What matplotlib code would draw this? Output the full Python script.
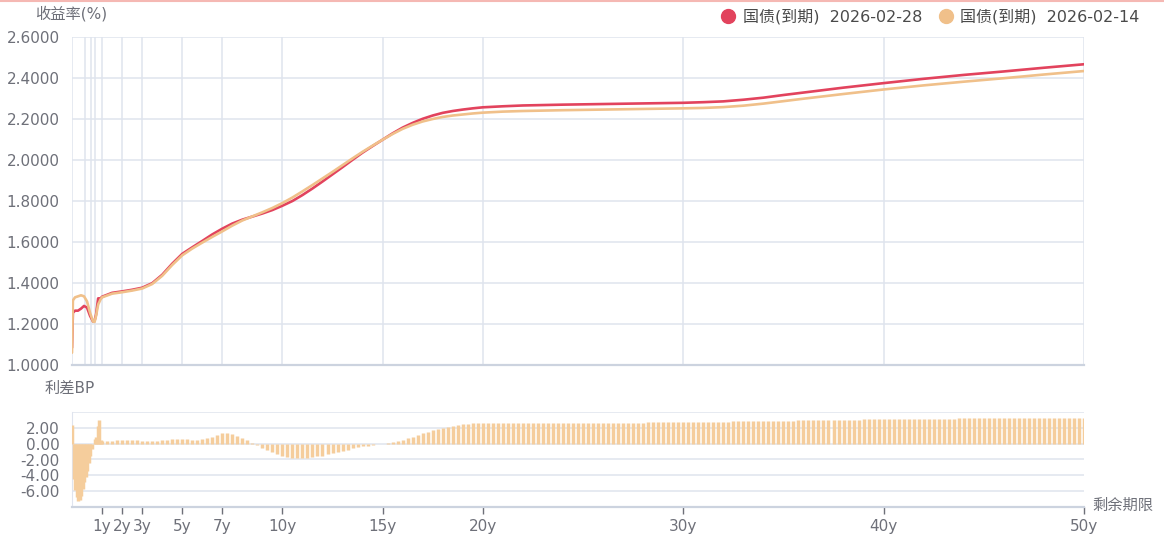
import numpy as np
import matplotlib
matplotlib.use("Agg")
import matplotlib.pyplot as plt
from matplotlib.lines import Line2D

plt.rcParams['font.family'] = ['DejaVu Sans', 'Noto Sans CJK SC']

# maturity (years) of the yield curve points
t_curve = [0, 0.03, 0.1, 0.2, 0.3, 0.4, 0.5, 0.6, 0.7, 0.75, 0.8, 0.87, 0.95,
           1.0, 1.5, 2.0, 2.5, 3.0, 3.5, 4.0, 4.5, 5.0, 5.5, 6.0, 6.5, 7.0, 7.5,
           8.0, 8.5, 9.0, 9.5, 10.0, 10.5, 11.0, 11.5, 12.0, 12.5, 13.0, 13.5,
           14.0, 14.5, 15.0, 15.5, 16.0, 16.5, 17.0, 17.5, 18.0, 18.5, 19.0,
           19.5, 20, 21, 22, 24, 26, 28, 30, 31, 32, 33, 34, 35, 36, 38, 40,
           42, 44, 46, 48, 50]

# 国债(到期) 2026-02-28
y_0228 = [1.084, 1.255, 1.265, 1.265, 1.275, 1.288, 1.280, 1.240, 1.212, 1.215,
          1.246, 1.325, 1.325, 1.333, 1.352, 1.359, 1.367, 1.377, 1.399, 1.440,
          1.494, 1.542, 1.574, 1.605, 1.637, 1.665, 1.690, 1.709, 1.724, 1.739,
          1.756, 1.777, 1.800, 1.829, 1.861, 1.895, 1.930, 1.965, 2.001, 2.036,
          2.068, 2.099, 2.130, 2.158, 2.181, 2.201, 2.217, 2.230, 2.239, 2.246,
          2.252, 2.257, 2.262, 2.266, 2.270, 2.273, 2.276, 2.279, 2.282, 2.286,
          2.294, 2.304, 2.317, 2.329, 2.353, 2.375, 2.396, 2.415, 2.432, 2.450,
          2.467]

# 国债(到期) 2026-02-14
y_0214 = [1.060, 1.315, 1.330, 1.335, 1.340, 1.335, 1.310, 1.255, 1.212, 1.210,
          1.240, 1.295, 1.320, 1.330, 1.348, 1.355, 1.363, 1.373, 1.395, 1.435,
          1.488, 1.535, 1.568, 1.597, 1.625, 1.652, 1.680, 1.705, 1.725, 1.745,
          1.766, 1.790, 1.817, 1.847, 1.878, 1.910, 1.942, 1.975, 2.008, 2.040,
          2.070, 2.099, 2.127, 2.152, 2.172, 2.188, 2.200, 2.210, 2.217, 2.222,
          2.227, 2.231, 2.236, 2.239, 2.243, 2.246, 2.249, 2.252, 2.254, 2.258,
          2.265, 2.275, 2.287, 2.299, 2.322, 2.344, 2.364, 2.382, 2.399, 2.417,
          2.434]

# spread in BP, first year
t_spread_short = [0.0, 0.05, 0.10, 0.15, 0.20, 0.25, 0.30, 0.35, 0.40, 0.45,
                  0.50, 0.55, 0.60, 0.65, 0.70, 0.75, 0.80, 0.85, 0.90, 0.95, 1.0]
spread_short = [2.4, -4.5, -5.8, -6.7, -7.2, -7.1, -6.6, -5.7, -4.9, -4.2,
                -3.4, -2.4, -1.5, -0.7, -0.1, 0.6, 0.8, 2.2, 3.0, 0.5, 0.3]

# spread in BP after 1y, one row per year (y+0.25, y+0.5, y+0.75, y+1)
spread_rows = [
    [0.30, 0.35, 0.40, 0.40], [0.45, 0.40, 0.40, 0.35], [0.30, 0.30, 0.35, 0.40],
    [0.45, 0.55, 0.60, 0.60], [0.55, 0.50, 0.50, 0.55], [0.70, 0.90, 1.15, 1.35],
    [1.35, 1.25, 1.00, 0.70], [0.40, 0.10, -0.20, -0.50], [-0.80, -1.05, -1.30, -1.50],
    [-1.65, -1.75, -1.80, -1.80], [-1.75, -1.70, -1.60, -1.50], [-1.35, -1.20, -1.05, -0.90],
    [-0.75, -0.60, -0.45, -0.35], [-0.25, -0.15, -0.05, 0.00], [0.10, 0.20, 0.35, 0.50],
    [0.70, 0.90, 1.10, 1.30], [1.50, 1.70, 1.85, 2.00], [2.15, 2.25, 2.35, 2.45],
    [2.50, 2.55, 2.58, 2.60], [2.60, 2.60, 2.60, 2.60], [2.60, 2.60, 2.60, 2.61],
    [2.61, 2.61, 2.61, 2.62], [2.62, 2.62, 2.62, 2.63], [2.63, 2.63, 2.63, 2.64],
    [2.64, 2.64, 2.65, 2.65], [2.65, 2.65, 2.66, 2.66], [2.66, 2.67, 2.67, 2.67],
    [2.68, 2.68, 2.68, 2.69], [2.69, 2.69, 2.70, 2.70], [2.71, 2.72, 2.73, 2.74],
    [2.75, 2.76, 2.77, 2.78], [2.79, 2.80, 2.81, 2.82], [2.83, 2.84, 2.85, 2.86],
    [2.87, 2.88, 2.89, 2.90], [2.91, 2.92, 2.93, 2.94], [2.95, 2.96, 2.97, 2.98],
    [2.99, 3.00, 3.01, 3.02], [3.03, 3.04, 3.05, 3.06], [3.07, 3.08, 3.09, 3.10],
    [3.11, 3.11, 3.12, 3.12], [3.13, 3.13, 3.14, 3.14], [3.15, 3.15, 3.16, 3.16],
    [3.17, 3.17, 3.18, 3.18], [3.19, 3.19, 3.20, 3.20], [3.21, 3.21, 3.22, 3.22],
    [3.23, 3.23, 3.24, 3.24], [3.25, 3.25, 3.26, 3.26], [3.27, 3.27, 3.28, 3.28],
    [3.29, 3.29, 3.30, 3.30],
]

tick_years = [1, 2, 3, 5, 7, 10, 15, 20, 30, 40, 50]
tick_labels = ['1y', '2y', '3y', '5y', '7y', '10y', '15y', '20y', '30y', '40y', '50y']
extra_grid = [0, 0.43, 0.63, 0.77]

t_spread = list(t_spread_short)
spread = list(spread_short)
for i, row in enumerate(spread_rows):
    for j, v in enumerate(row):
        t_spread.append(1 + i + 0.25 * (j + 1))
        spread.append(v)

RED = '#e2435d'
ORANGE = '#f0c08a'
BAR = '#f5cd9c'
GRID = '#dfe4ee'
AXIS = '#ccd3df'
TXT = '#6e7079'


# first year is stretched compared to the rest
def fwd(t):
    t = np.asarray(t, dtype=float)
    return np.where(t < 1, 1.5 * t, t + 0.5)


def inv(u):
    u = np.asarray(u, dtype=float)
    return np.where(u < 1.5, u / 1.5, u - 0.5)


W, H = 1164, 541
fig = plt.figure(figsize=(W / 100, H / 100), dpi=100)
ax1 = fig.add_axes([72 / W, 1 - 365 / H, (1084 - 72) / W, (365 - 37) / H])
ax2 = fig.add_axes([72 / W, 1 - 507 / H, (1084 - 72) / W, (507 - 412) / H])

# upper: yield curves
ax1.set_xscale('function', functions=(fwd, inv))
ax1.plot(t_curve, y_0228, color=RED, lw=1.9, zorder=3, solid_capstyle='round')
ax1.plot(t_curve, y_0214, color=ORANGE, lw=1.9, zorder=4, solid_capstyle='round')
ax1.set_xlim(0, 50)
ax1.set_ylim(1.0, 2.6)
ax1.set_xticks(tick_years)
ax1.set_xticks(extra_grid, minor=True)
ax1.set_yticks(np.arange(1.0, 2.61, 0.2))
ax1.set_yticklabels(['%.4f' % v for v in np.arange(1.0, 2.61, 0.2)])
ax1.grid(True, which='both', color=GRID, lw=1.1, zorder=0)
ax1.tick_params(axis='x', which='both', length=0, labelbottom=False)
ax1.tick_params(axis='y', length=0, pad=9, labelsize=11, labelcolor=TXT)
for s in ['top', 'right', 'left']:
    ax1.spines[s].set_visible(False)
ax1.spines['bottom'].set_color(AXIS)
ax1.spines['bottom'].set_linewidth(1.6)

# lower: spread bars
ax2.set_xscale('function', functions=(fwd, inv))
ax2.vlines(t_spread, 0, spread, colors=BAR, lw=2.5, zorder=3)
ax2.set_xlim(0, 50)
ax2.set_ylim(-8, 4)
ax2.set_yticks([-6, -4, -2, 0, 2])
ax2.set_yticklabels(['%.2f' % v for v in [-6, -4, -2, 0, 2]])
ax2.set_yticks([4], minor=True)
ax2.grid(True, axis='y', which='both', color=GRID, lw=1.1, zorder=0)
ax2.set_xticks(tick_years)
ax2.set_xticklabels(tick_labels)
ax2.tick_params(axis='x', length=5, width=1, color=TXT, pad=4, labelsize=11, labelcolor=TXT)
ax2.tick_params(axis='y', which='both', length=0, pad=9, labelsize=11, labelcolor=TXT)
ax2.spines['top'].set_visible(False)
ax2.spines['right'].set_visible(False)
ax2.spines['left'].set_color(GRID)
ax2.spines['bottom'].set_color(AXIS)
ax2.spines['bottom'].set_linewidth(1.6)

# texts
fig.text(35 / W, 1 - 14 / H, '收益率(%)', ha='left', va='center', fontsize=11, color=TXT)
fig.text(45 / W, 1 - 388 / H, '利差BP', ha='left', va='center', fontsize=11, color=TXT)
fig.text(1092 / W, 1 - 505 / H, '剩余期限', ha='left', va='center', fontsize=11, color=TXT)

handles = [Line2D([], [], marker='o', ls='', color=RED, markersize=10),
           Line2D([], [], marker='o', ls='', color=ORANGE, markersize=10)]
labels = ['国债(到期)  2026-02-28', '国债(到期)  2026-02-14']
fig.legend(handles, labels, loc='upper right', bbox_to_anchor=(1146 / W, 1 - 3 / H),
           ncol=2, frameon=False, fontsize=11.5, handletextpad=0.3, columnspacing=0.9,
           borderaxespad=0, labelcolor='#4a4a4a', handlelength=1.2)

fig.add_artist(Line2D([0, 1], [1 - 0.8 / H, 1 - 0.8 / H], color='#f5b8b3', lw=1.5))

plt.savefig('out.png', dpi=100, facecolor='w')
